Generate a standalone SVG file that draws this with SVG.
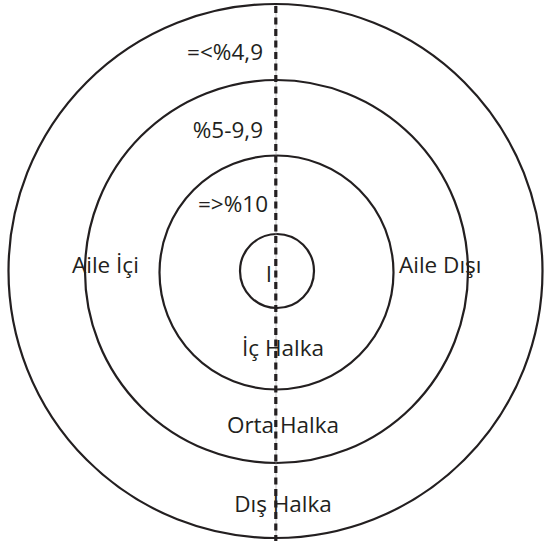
<svg xmlns="http://www.w3.org/2000/svg" width="545" height="548" viewBox="0 0 545 548">
<style>
.ring{fill:none;stroke:#231f20;stroke-width:2.2}
.lbl{font-family:"Open Sans","Liberation Sans",sans-serif;font-size:22.5px;fill:#231f20}
.axis{stroke:#231f20;stroke-width:3.2;stroke-dasharray:7 4.5;fill:none}
.guide{stroke:#9a9a9a;stroke-width:0.6;fill:none}
</style>
<rect width="545" height="548" fill="#fff"/>
<g id="outer-ring"><circle class="ring" cx="275.5" cy="271" r="267"/></g>
<g id="middle-ring"><circle class="ring" cx="276.5" cy="271.5" r="191.5"/></g>
<g id="inner-ring"><circle class="ring" cx="276.5" cy="272.5" r="117"/></g>
<g id="core"><circle class="ring" cx="277" cy="271" r="37"/></g>
<g id="connectors">
<line class="guide" x1="276" y1="5" x2="276" y2="541"/>
<line class="axis" x1="275.8" y1="6" x2="275.8" y2="541"/>
</g>
<g id="labels">
<text class="lbl" x="263" y="60" text-anchor="end">=&lt;%4,9</text>
<text class="lbl" x="263" y="138" text-anchor="end">%5-9,9</text>
<text class="lbl" x="268" y="212" text-anchor="end">=&gt;%10</text>
<text class="lbl" x="72" y="273">Aile İçi</text>
<text class="lbl" x="399" y="273">Aile Dışı</text>
<text class="lbl" x="269" y="282" text-anchor="middle">I</text>
<text class="lbl" x="283" y="356" text-anchor="middle">İç Halka</text>
<text class="lbl" x="283" y="433" text-anchor="middle">Orta Halka</text>
<text class="lbl" x="283" y="512" text-anchor="middle">Dış Halka</text>
</g>
</svg>
